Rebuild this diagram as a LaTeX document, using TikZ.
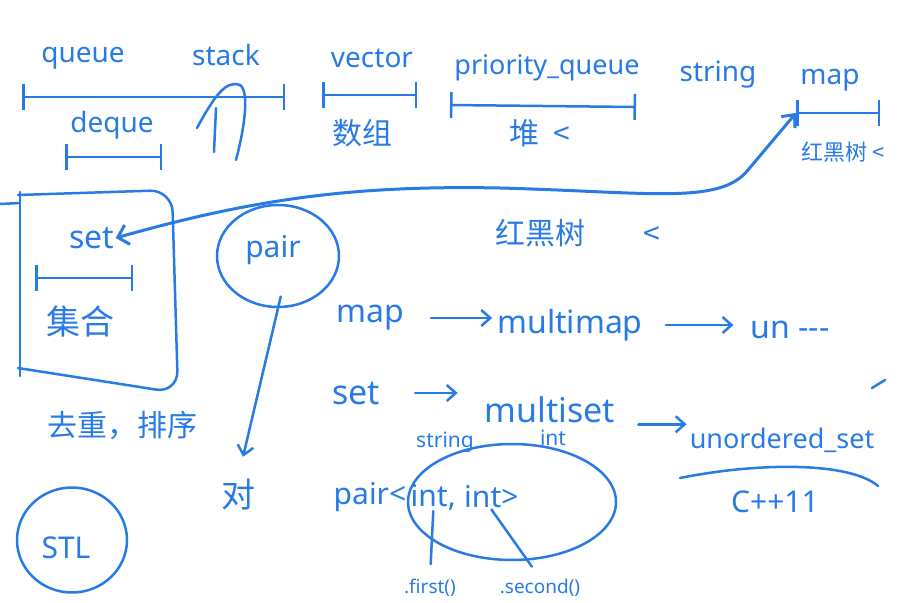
\documentclass[tikz,border=0pt]{standalone}
\usepackage{fontspec}
\setmainfont{Noto Sans}
\newfontfamily\cjk{Noto Sans CJK SC}
\usetikzlibrary{arrows.meta,positioning,shapes.geometric}
\definecolor{ink}{RGB}{40,122,228}

\tikzset{
  inkline/.style={draw=ink, line width=2.5pt, line cap=round, line join=round},
  word/.style={text=ink, inner sep=1pt, font=\fontsize{#1}{#1}\selectfont},
  word/.default=28,
  hanzi/.style={text=ink, inner sep=1pt, font=\cjk\fontsize{#1}{#1}\selectfont},
  hanzi/.default=30,
  span/.style={inkline, {Bar[width=26pt]}-{Bar[width=26pt]}},
  toarrow/.style={inkline, -{Straight Barb[length=9pt,width=16pt]}},
  blob/.style={ellipse, inkline, inner sep=0pt},
}

\begin{document}
\begin{tikzpicture}[x=1pt, y=-1pt]
\useasboundingbox (0,0) rectangle (923,602);

% Top row of containers
\node[word] (queue) at (83,58) {queue};
\node[word] (stack) at (226,55) {stack};
\node[word] (vector) at (372,58) {vector};
\node[word=27] (pq) at (547,68) {priority\_queue};
\node[word] (string) at (718,75) {string};
\node[word] (map) at (830,80) {map};

% Ranges under the names
\coordinate (queueL) at (22,97);   \coordinate (queueR) at (285,97);
\coordinate (dequeL) at (65,157);  \coordinate (dequeR) at (162,157);
\coordinate (vectorL) at (322,95); \coordinate (vectorR) at (417,95);
\coordinate (pqL) at (450,105);    \coordinate (pqR) at (636,107);
\coordinate (mapL) at (796,113);   \coordinate (mapR) at (880,113);
\draw[span] (queueL) -- (queueR);
\draw[span] (dequeL) -- (dequeR);
\draw[span] (vectorL) -- (vectorR);
\draw[span] (pqL) -- (pqR);
\draw[span] (mapL) -- (mapR);

\node[word] (deque) at (112,125) {deque};
\node[hanzi=30] (array) at (362,133) {数组};
\node[hanzi=30] (heap) at (540,133) {堆\ \ <};
\node[hanzi=22] (rbtop) at (843,152) {红黑树\ <};

% stack sketch
\draw[inkline] (197,128) .. controls (215,95) and (226,80) .. (240,85)
  .. controls (250,92) and (244,130) .. (236,160);
\draw[inkline] (214,152) -- (216,108);

% set box
\draw[inkline, rounded corners=22pt] (18,195) -- (172,190) -- (178,393) -- (18,368);
\draw[inkline] (20,192) -- (20,376);
\draw[inkline] (0,204) -- (20,203);
\node[word=32] (set) at (92,238) {set};
\coordinate (setL) at (35,278); \coordinate (setR) at (133,278);
\draw[span] (setL) -- (setR);
\node[hanzi=34] (jihe) at (80,322) {集合};
\node[hanzi=30] (dedup) at (122,425) {去重，排序};

% long link between set and map
\draw[inkline, line width=3pt, {Straight Barb[length=10pt,width=20pt]}-{Straight Barb[length=10pt,width=18pt]}]
  (set.east) .. controls (250,200) and (350,185) .. (500,188)
  .. controls (650,192) and (720,205) .. (748,170) -- (mapL);
\node[hanzi=30] (rbmid) at (578,233) {红黑树\hspace{58pt}<};

% pair
\node[blob, minimum width=122pt, minimum height=102pt] (pair) at (278,256) {};
\node[word=30] (pairtxt) at (273,250) {pair};
\node[hanzi=34] (dui) at (238,495) {对};
\draw[toarrow, shorten <=-12pt, shorten >=22pt] (pair.south) -- (dui.north);

% multi / unordered rows
\node[word=32] (map2) at (370,318) {map};
\node[word=32] (multimap) at (570,325) {multimap};
\node[word=32] (unmap) at (790,330) {un -{}-{}-};
\draw[toarrow, shorten <=26pt, shorten >=4pt] (map2.east) -- (map2.east -| multimap.west);
\draw[toarrow, shorten <=22pt, shorten >=16pt] (multimap.east) -- (multimap.east -| unmap.west);

\node[word=34] (set2) at (356,393) {set};
\node[word=34] (multiset) at (550,410) {multiset};
\node[word=27] (unset) at (782,440) {unordered\_set};
\draw[toarrow, shorten <=34pt, shorten >=26pt] (set2.east) -- (set2.east -| multiset.west);
\draw[toarrow, shorten <=22pt, shorten >=2pt] (multiset.south east) -- (multiset.south east -| unset.west);
\draw[inkline] (872,388) -- (885,380);

% C++11
\draw[inkline] (680,478) .. controls (760,462) and (850,462) .. (878,486);
\node[word=30] (cpp) at (775,502) {C++11};

% pair<int, int>
\node[word=30] (pairkw) at (370,497) {pair<};
\node[word=30, right=2pt of pairkw] (intA) {int,};
\node[word=30, right=6pt of intA] (intB) {int>};
\draw[inkline] (512,502) ellipse (104 and 58);
\node[word=21] (strword) at (445,442) {string};
\node[word=21] (intword) at (553,438) {int};
\node[word=19] (first) at (430,588) {.first()};
\node[word=19] (second) at (540,588) {.second()};
\draw[inkline, shorten >=14pt] (intA.south) -- (first.north);
\draw[inkline, shorten >=14pt] (intB.south) -- (second.north);

% STL
\node[blob, minimum width=110pt, minimum height=105pt] (stl) at (72,540) {};
\node[word=30] (stltxt) at (66,548) {STL};
\end{tikzpicture}
\end{document}
